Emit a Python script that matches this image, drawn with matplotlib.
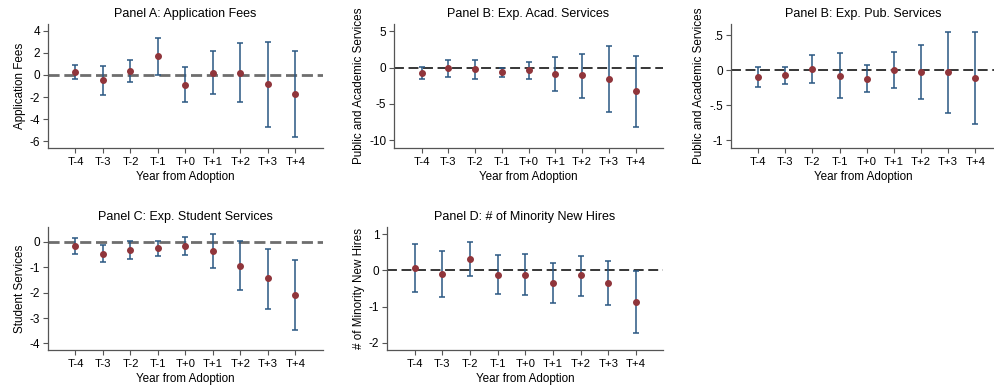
import matplotlib
matplotlib.use("Agg")
import matplotlib.pyplot as plt
from matplotlib.ticker import FixedLocator, FixedFormatter

plt.rcParams['font.family'] = ['Liberation Sans', 'DejaVu Sans']

periods = ["T-4", "T-3", "T-2", "T-1", "T+0", "T+1", "T+2", "T+3", "T+4"]

fees_est = [0.30, -0.45, 0.36, 1.67, -0.88, 0.18, 0.18, -0.85, -1.70]
fees_hi = [0.90, 0.85, 1.36, 3.30, 0.70, 2.12, 2.85, 2.94, 2.20]
fees_lo = [-0.36, -1.80, -0.64, 0.03, -2.48, -1.76, -2.45, -4.67, -5.60]

acad_est = [-0.78, -0.10, -0.27, -0.64, -0.41, -0.87, -1.10, -1.60, -3.20]
acad_hi = [0.10, 1.05, 1.05, 0.00, 0.73, 1.46, 1.92, 2.97, 1.65]
acad_lo = [-1.60, -1.37, -1.65, -1.28, -1.55, -3.20, -4.16, -6.17, -8.14]

pub_est = [-0.094, -0.070, 0.016, -0.080, -0.120, 0.000, -0.027, -0.030, -0.108]
pub_hi = [0.050, 0.050, 0.215, 0.240, 0.070, 0.260, 0.367, 0.547, 0.552]
pub_lo = [-0.236, -0.190, -0.184, -0.390, -0.310, -0.260, -0.416, -0.615, -0.770]

stud_est = [-0.16, -0.46, -0.33, -0.25, -0.17, -0.35, -0.93, -1.44, -2.09]
stud_hi = [0.16, -0.13, 0.03, 0.03, 0.18, 0.30, 0.04, -0.26, -0.71]
stud_lo = [-0.46, -0.79, -0.68, -0.54, -0.52, -1.01, -1.91, -2.64, -3.49]

hires_est = [0.08, -0.10, 0.31, -0.12, -0.12, -0.35, -0.14, -0.34, -0.88]
hires_hi = [0.73, 0.54, 0.78, 0.42, 0.45, 0.20, 0.40, 0.26, -0.03]
hires_lo = [-0.59, -0.74, -0.16, -0.66, -0.69, -0.90, -0.70, -0.95, -1.73]

W, H = 995, 388
fig = plt.figure(figsize=(W / 100, H / 100), dpi=100)

bar_col = '#2a5783'
pt_col = '#90353b'
axis_col = '#555555'

panels = [
    dict(title="Panel A: Application Fees", ylabel="Application Fees",
         est=fees_est, hi=fees_hi, lo=fees_lo, box=(48, 323, 24, 148),
         xlim=(-5, 5), ylim=(-6.6, 4.6), yticks=[4, 2, 0, -2, -4, -6],
         ytl=["4", "2", "0", "-2", "-4", "-6"], dash=('#6e6e6e', 2.0, (4, 1.7))),
    dict(title="Panel B: Exp. Acad. Services", ylabel="Public and Academic Services",
         est=acad_est, hi=acad_hi, lo=acad_lo, box=(394, 663, 24, 148),
         xlim=(-5.03, 5.02), ylim=(-11.1, 6.0), yticks=[5, 0, -5, -10],
         ytl=["5", "0", "-5", "-10"], dash=('black', 1.1, (6.5, 3))),
    dict(title="Panel B: Exp. Pub. Services", ylabel="Public and Academic Services",
         est=pub_est, hi=pub_hi, lo=pub_lo, box=(731, 995, 24, 148),
         xlim=(-5, 4.73), ylim=(-1.11, 0.66), yticks=[0.5, 0, -0.5, -1],
         ytl=[".5", "0", "-.5", "-1"], dash=('black', 1.1, (6.5, 3))),
    dict(title="Panel C: Exp. Student Services", ylabel="Student Services",
         est=stud_est, hi=stud_hi, lo=stud_lo, box=(48, 323, 227, 350),
         xlim=(-5, 5), ylim=(-4.26, 0.59), yticks=[0, -1, -2, -3, -4],
         ytl=["0", "-1", "-2", "-3", "-4"], dash=('#6e6e6e', 2.0, (4, 1.7))),
    dict(title="Panel D: # of Minority New Hires", ylabel="# of Minority New Hires",
         est=hires_est, hi=hires_hi, lo=hires_lo, box=(387, 663, 227, 350),
         xlim=(-5, 4.98), ylim=(-2.2, 1.2), yticks=[1, 0, -1, -2],
         ytl=["1", "0", "-1", "-2"], dash=('black', 1.1, (6.5, 3))),
]

xs = list(range(-4, 5))

for p in panels:
    l, r, t, b = p['box']
    ax = fig.add_axes([l / W, 1 - b / H, (r - l) / W, (b - t) / H])
    dc, dw, dp = p['dash']
    ax.axhline(0, color=dc, lw=dw, dashes=dp, zorder=1)
    yerr = [[e - lo for e, lo in zip(p['est'], p['lo'])],
            [hi - e for e, hi in zip(p['est'], p['hi'])]]
    ax.errorbar(xs, p['est'], yerr=yerr, fmt='none', ecolor=bar_col,
                elinewidth=1.1, capsize=2.2, capthick=1.1, zorder=2)
    ax.plot(xs, p['est'], 'o', color=pt_col, ms=4.0, zorder=3)
    ax.set_xlim(*p['xlim'])
    ax.set_ylim(*p['ylim'])
    ax.set_xticks(xs)
    ax.set_xticklabels(periods, fontsize=8.2)
    ax.yaxis.set_major_locator(FixedLocator(p['yticks']))
    ax.yaxis.set_major_formatter(FixedFormatter(p['ytl']))
    ax.tick_params(axis='y', labelsize=8.5, length=3.5, width=0.8,
                   color=axis_col, pad=2)
    ax.tick_params(axis='x', length=3.5, width=0.8, color=axis_col, pad=3)
    for s in ['top', 'right']:
        ax.spines[s].set_visible(False)
    for s in ['left', 'bottom']:
        ax.spines[s].set_color(axis_col)
        ax.spines[s].set_linewidth(0.9)
    ax.set_title(p['title'], fontsize=9, pad=5)
    ax.set_xlabel("Year from Adoption", fontsize=8.4, labelpad=3)
    ax.set_ylabel(p['ylabel'], fontsize=8.4, labelpad=3)

fig.savefig("out.png", dpi=100)
